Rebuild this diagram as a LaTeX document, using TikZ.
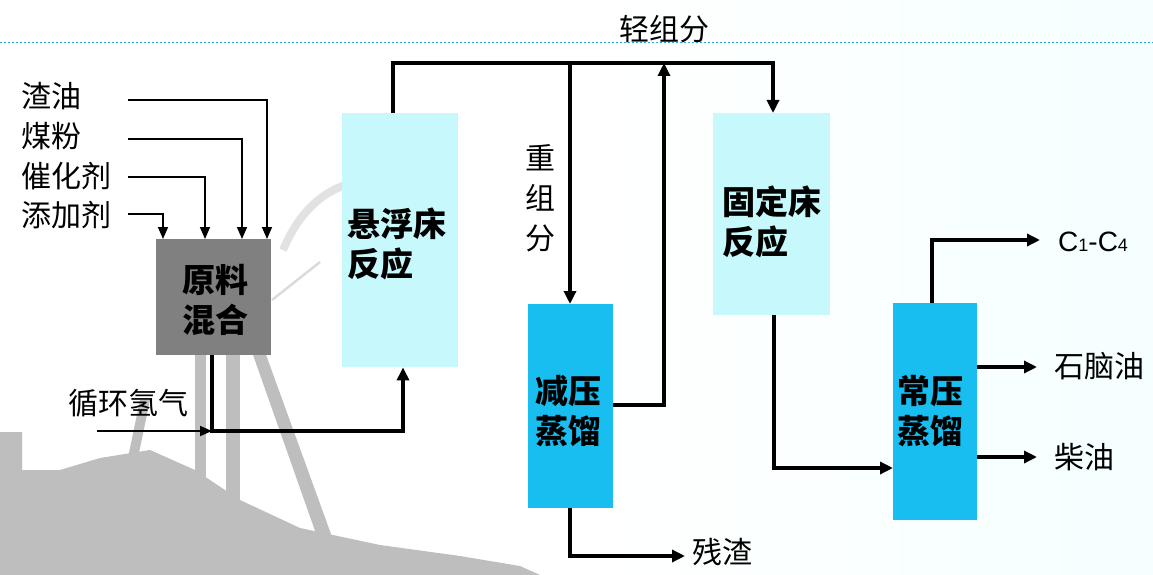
\documentclass[tikz,border=0pt]{standalone}
\usepackage{fontspec}
\setmainfont{Liberation Sans}
\newfontfamily\cjk{Noto Sans CJK SC}
\usetikzlibrary{arrows.meta}

\definecolor{paleblue}{HTML}{C6F8FC}
\definecolor{deepcyan}{HTML}{18BEF0}
\definecolor{mixgray}{HTML}{808080}
\definecolor{silhouette}{HTML}{BEBEBE}
\definecolor{rulecyan}{HTML}{2AA8D8}

\tikzset{
  unit/.style={draw=none, inner sep=0pt, anchor=north west},
  boxtext/.style={font=\cjk\bfseries\fontsize{33}{40}\selectfont, align=left, inner sep=0pt},
  feedlabel/.style={font=\cjk\fontsize{30}{34}\selectfont, inner sep=0pt},
  thinflow/.style={line width=1.6pt, -{Triangle[length=12pt,width=10pt]}},
  thickflow/.style={line width=3.6pt, -{Triangle[length=13pt,width=12pt]}},
  pipe/.style={line width=3.6pt}
}

\begin{document}
\begin{tikzpicture}[x=1pt,y=-1pt]
\useasboundingbox (0,0) rectangle (1153,575);
\fill[white] (0,0) rectangle (1153,575);
\shade[left color=white, right color=cyan!4] (600,0) rectangle (1153,575);

% oil-field silhouette in the lower left
\begin{scope}[silhouette]
  \draw[line width=8pt, silhouette!45] (283,250) .. controls (298,215) and (318,195) .. (345,185);
  \draw[line width=2.5pt, silhouette!55] (272,300) -- (320,262);
  \fill (0,575) -- (0,432) -- (22,432) -- (22,470) -- (60,470) -- (100,458)
        -- (150,450) -- (195,470) -- (240,500) -- (300,528) -- (380,545)
        -- (460,556) -- (520,566) -- (540,575) -- cycle;
  \fill (195,355) rectangle (206,480);
  \fill (226,355) rectangle (240,500);
  \fill (252,352) -- (265,352) -- (335,545) -- (320,545) -- cycle;
  \fill (140,400) -- (150,400) -- (125,520) -- (115,520) -- cycle;
\end{scope}

% dotted header rule
\draw[rulecyan, line width=0.8pt, dash pattern=on 2pt off 2pt] (0,42) -- (1153,42);

% process units
\node[unit, fill=mixgray, minimum width=115pt, minimum height=116pt] (mix) at (156,239) {};
\node[unit, fill=paleblue, minimum width=116pt, minimum height=254pt] (slurry) at (342,113) {};
\node[unit, fill=deepcyan, minimum width=85pt, minimum height=204pt] (vac) at (528,304) {};
\node[unit, fill=paleblue, minimum width=117pt, minimum height=202pt] (fixed) at (713,113) {};
\node[unit, fill=deepcyan, minimum width=84pt, minimum height=217pt] (atm) at (893,303) {};

\node[boxtext, align=center] (mixtxt) at (215,300) {原料\\混合};
\node[boxtext, anchor=west] (slurrytxt) at (347,244) {悬浮床\\反应};
\node[boxtext, align=center] (vactxt) at (568,411) {减压\\蒸馏};
\node[boxtext, anchor=west] (fixedtxt) at (722,222) {固定床\\反应};
\node[boxtext, align=center] (atmtxt) at (930,411) {常压\\蒸馏};

% feed and product labels
\node[feedlabel, anchor=west] (resid) at (21,96) {渣油};
\node[feedlabel, anchor=west] (coal) at (21,136) {煤粉};
\node[feedlabel, anchor=west] (cat) at (21,176) {催化剂};
\node[feedlabel, anchor=west] (addit) at (21,215) {添加剂};
\node[feedlabel, anchor=west] (h2) at (68,403) {循环氢气};
\node[feedlabel] (light) at (664,29) {轻组分};
\node[feedlabel, align=center, font=\cjk\fontsize{30}{40}\selectfont] (heavy) at (540,198) {重\\组\\分};
\node[feedlabel, anchor=west] (resd) at (692,552) {残渣};
\node[feedlabel, anchor=west] (naph) at (1054,366) {石脑油};
\node[feedlabel, anchor=west] (dsl) at (1054,457) {柴油};
\node[anchor=west, inner sep=0pt, font=\fontsize{28}{30}\selectfont] (gas) at (1058,242)
  {C{\fontsize{18}{20}\selectfont 1}-C{\fontsize{18}{20}\selectfont 4}};

% start points of the feed lines
\coordinate (residS) at (128,100);
\coordinate (coalS) at (128,139);
\coordinate (catS) at (128,177);
\coordinate (additS) at (128,214);
\coordinate (h2S) at (97,431);

% feeds into the mixer
\draw[thinflow] (residS) -| (mix.north -| 267,0);
\draw[thinflow] (coalS) -| (mix.north -| 242,0);
\draw[thinflow] (catS) -| (mix.north -| 205,0);
\draw[thinflow] (additS) -| (mix.north -| 163,0);

% mixer and recycle hydrogen to the slurry-bed reactor
\draw[thinflow] (h2S) -- (212,431);
\draw[thickflow] (mix.south -| 212,0) |- (403,431) -- (slurry.south -| 403,0);

% light and heavy fractions
\draw[pipe] (slurry.north -| 393,0) |- (774,63);
\draw[thickflow] (773,61.2) -- (fixed.north -| 773,0);
\draw[thickflow] (570,62) -- (vac.north -| 570,0);
\draw[thickflow] (vac.east |- 0,405) -| (664,63);

% vacuum residue
\draw[thickflow] (vac.south -| 570,0) |- (685,556);

% fixed bed to atmospheric column
\draw[thickflow] (fixed.south -| 774,0) |- (atm.west |- 0,468);

% products
\draw[thickflow] (atm.north -| 932,0) |- (1040,240);
\draw[thickflow] (atm.east |- 0,367) -- (1037,367);
\draw[thickflow] (atm.east |- 0,457) -- (1037,457);
\end{tikzpicture}
\end{document}
